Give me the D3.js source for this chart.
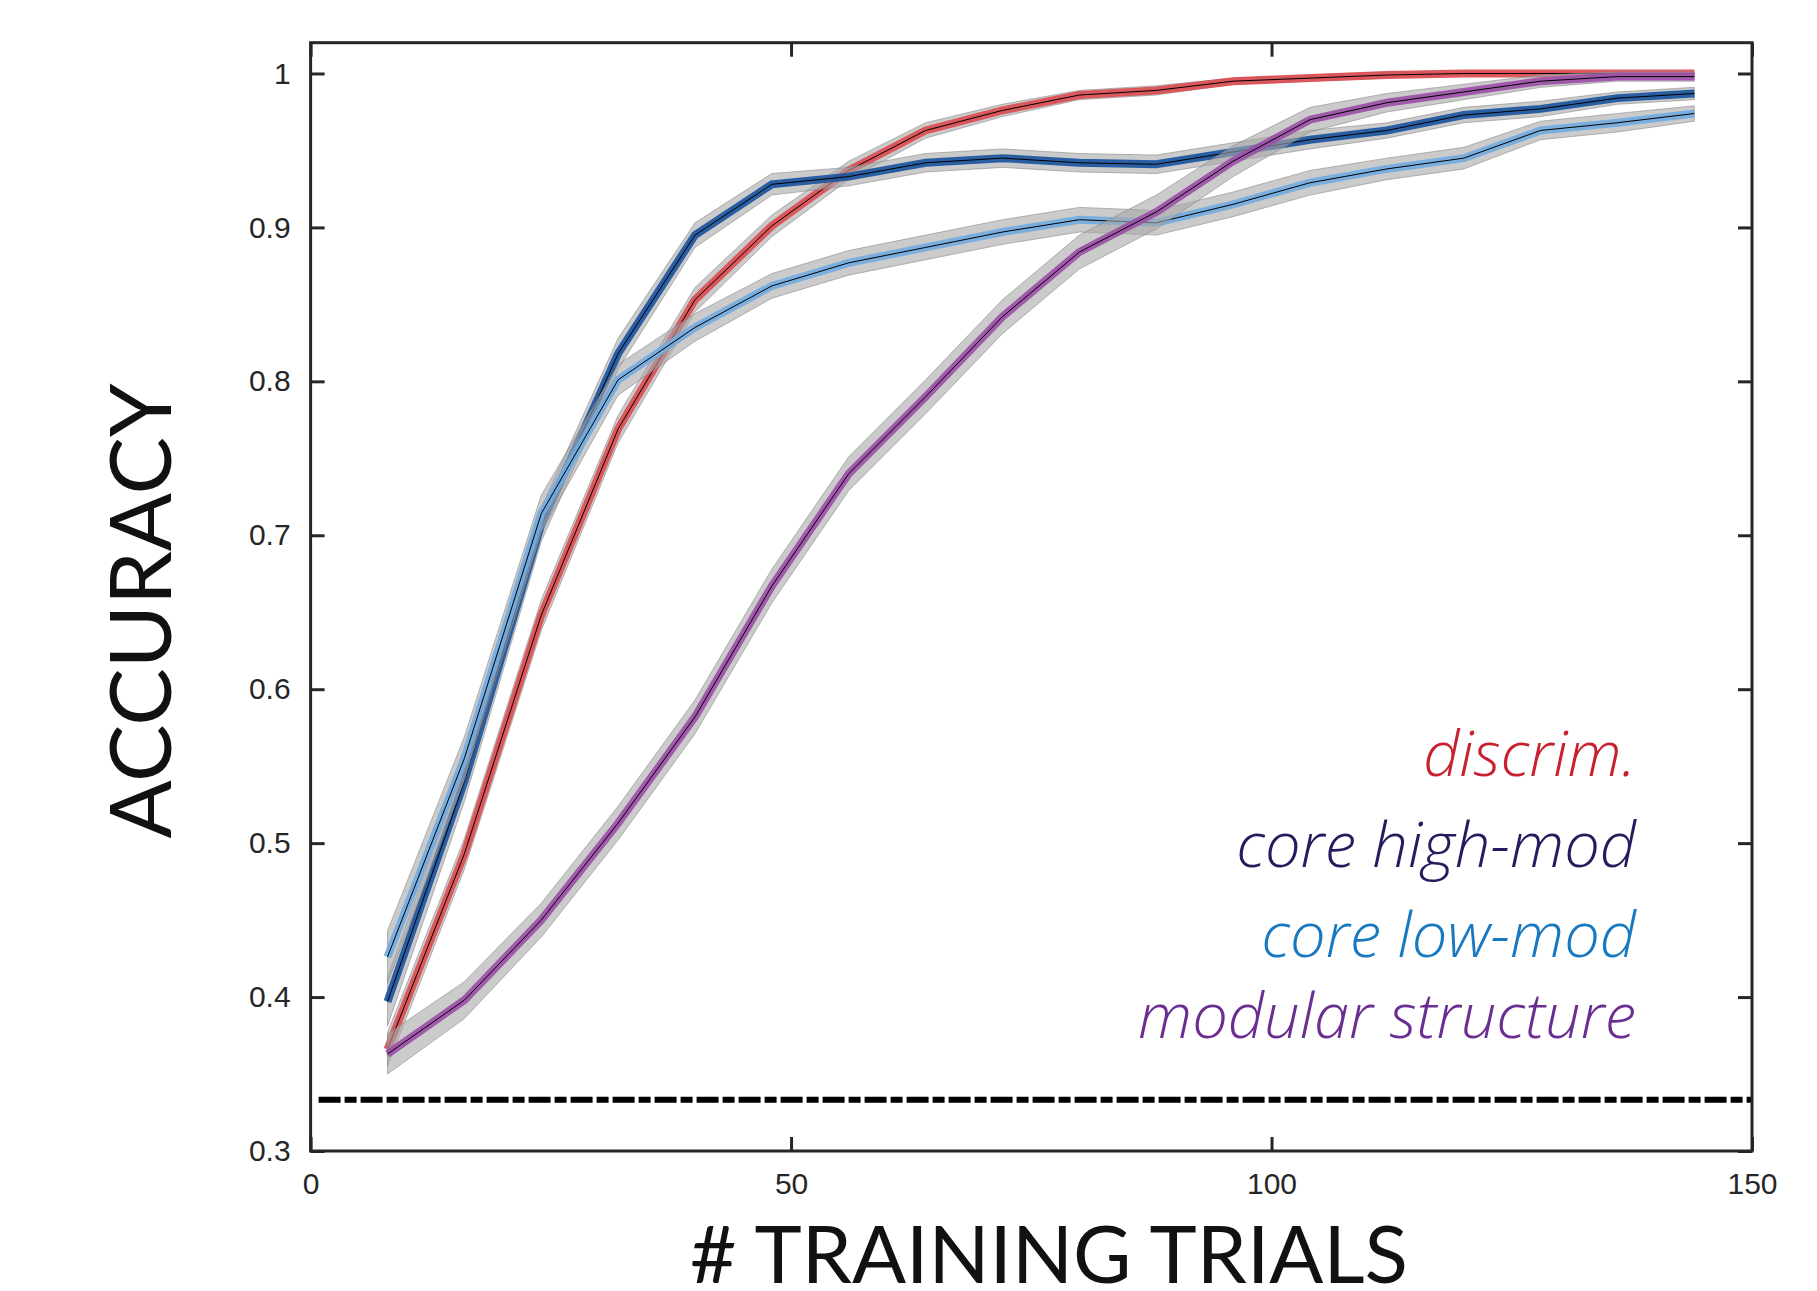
<!DOCTYPE html>
<html>
    <head>
        <meta charset="utf-8" />
        <script src="https://d3js.org/d3.v7.min.js"></script>
        <style type="text/css">
            body {
                margin: 0;
                background-color: white;
            }

            svg#mainSvg {
                display: block;
                background-color: white;
            }

            .tickText text {
                font-family: "Liberation Sans", Arial, Helvetica, sans-serif;
                font-size: 30px;
                fill: #262626;
            }

            .axisTitle {
                font-family: Lato, "Noto Sans", sans-serif;
                fill: #111;
            }

            .legendText {
                font-family: "Open Sans", "Noto Sans", sans-serif;
                font-style: italic;
                font-weight: 300;
            }
        </style>
    </head>

    <body>
        <svg id="mainSvg" width="1817" height="1291"></svg>

        <!-- Data -->
        <script type="text/javascript">
            // number of training trials (x positions of every point)
            const trials = [8, 16, 24, 32, 40, 48, 56, 64, 72, 80, 88, 96, 104, 112, 120, 128, 136, 144];

            // mean accuracy of every condition
            const discrim = [0.366, 0.493, 0.648, 0.769, 0.853, 0.901, 0.937, 0.963, 0.976, 0.986, 0.989, 0.995, 0.997, 0.999, 1.0, 1.0, 1.0, 1.0];
            const coreHigh = [0.397, 0.540, 0.707, 0.818, 0.895, 0.928, 0.933, 0.942, 0.945, 0.942, 0.941, 0.949, 0.957, 0.963, 0.973, 0.977, 0.984, 0.987];
            const coreLow = [0.426, 0.555, 0.714, 0.801, 0.835, 0.862, 0.877, 0.887, 0.897, 0.905, 0.903, 0.915, 0.929, 0.938, 0.945, 0.963, 0.968, 0.974];
            const modular = [0.363, 0.398, 0.450, 0.513, 0.582, 0.667, 0.740, 0.790, 0.842, 0.884, 0.910, 0.943, 0.970, 0.981, 0.988, 0.995, 0.998, 0.998];

            // half width of the grey error bands
            const discrimErr = [0.011, 0.010, 0.010, 0.009, 0.008, 0.007, 0.006, 0.005, 0.004, 0.003, 0.003, 0.002, 0.002, 0.002, 0.001, 0.001, 0.001, 0.001];
            const coreHighErr = [0.016, 0.013, 0.011, 0.010, 0.008, 0.007, 0.006, 0.006, 0.006, 0.006, 0.006, 0.006, 0.006, 0.005, 0.005, 0.005, 0.004, 0.004];
            const coreLowErr = [0.017, 0.014, 0.012, 0.010, 0.009, 0.008, 0.008, 0.008, 0.008, 0.008, 0.008, 0.008, 0.008, 0.007, 0.007, 0.006, 0.006, 0.005];
            const modularErr = [0.013, 0.012, 0.011, 0.011, 0.011, 0.011, 0.011, 0.011, 0.011, 0.011, 0.011, 0.010, 0.008, 0.006, 0.005, 0.004, 0.003, 0.003];

            // chance level (three choices)
            const chance = 1 / 3;

            // tick values and legend labels
            const xTicks = [0, 50, 100, 150];
            const yTicks = [0.3, 0.4, 0.5, 0.6, 0.7, 0.8, 0.9, 1];
            const labels = ["discrim.", "core high-mod", "core low-mod", "modular structure"];
        </script>

        <!-- Scales and frame -->
        <script type="text/javascript">
            const svg = d3.select("#mainSvg");
            const boxLeft = 310.6,
                boxRight = 1752,
                boxTop = 42.7,
                boxBottom = 1151;

            const x = d3.scaleLinear().domain([0, 150]).range([boxLeft, boxRight]);
            const y = d3.scaleLinear().domain([0.3, 1.02]).range([boxBottom, boxTop]);

            const fmt = (d) => (d === 1 ? "1" : d3.format(".1f")(d));

            // bottom axis with labels, ticks pointing inwards
            svg.append("g")
                .attr("class", "tickText")
                .attr("transform", "translate(0," + boxBottom + ")")
                .call(d3.axisBottom(x).tickValues(xTicks).tickSize(-14).tickPadding(22));

            // left axis with labels
            svg.append("g")
                .attr("class", "tickText")
                .attr("transform", "translate(" + boxLeft + ",0)")
                .call(d3.axisLeft(y).tickValues(yTicks).tickFormat(fmt).tickSize(-14).tickPadding(20));

            // mirrored ticks on top and right
            svg.append("g")
                .attr("transform", "translate(0," + boxTop + ")")
                .call(d3.axisTop(x).tickValues(xTicks).tickSize(-14).tickFormat(""));
            svg.append("g")
                .attr("transform", "translate(" + boxRight + ",0)")
                .call(d3.axisRight(y).tickValues(yTicks).tickSize(-14).tickFormat(""));

            svg.selectAll(".domain").remove();
            svg.selectAll(".tick line").attr("stroke", "#262626").attr("stroke-width", 3);
        </script>

        <!-- Chance line, bands and lines -->
        <script type="text/javascript">
            const series = [
                { mean: discrim, err: discrimErr, color: "#db4d52" },
                { mean: coreHigh, err: coreHighErr, color: "#1c55a0" },
                { mean: coreLow, err: coreLowErr, color: "#72abdf" },
                { mean: modular, err: modularErr, color: "#9c4fa8" },
            ];

            const plot = svg.append("g");

            // dash-dot chance line
            plot.append("line")
                .attr("x1", x(0) + 8)
                .attr("x2", x(150))
                .attr("y1", y(chance))
                .attr("y2", y(chance))
                .attr("stroke", "black")
                .attr("stroke-width", 6)
                .attr("stroke-dasharray", "22,4,12,4");

            const band = d3
                .area()
                .x((d, i) => x(trials[i]))
                .y0((d) => y(d[0] - d[1]))
                .y1((d) => y(d[0] + d[1]));

            const line = d3
                .line()
                .x((d, i) => x(trials[i]))
                .y((d) => y(d));

            series.forEach((s) => {
                const g = plot.append("g");
                g.append("path")
                    .datum(s.mean.map((m, i) => [m, s.err[i]]))
                    .attr("d", band)
                    .attr("fill", "#a8a8a8")
                    .attr("fill-opacity", 0.6)
                    .attr("stroke", "#8a8a8a")
                    .attr("stroke-opacity", 0.6)
                    .attr("stroke-width", 1);
                g.append("path")
                    .datum(s.mean)
                    .attr("d", line)
                    .attr("fill", "none")
                    .attr("stroke", s.color)
                    .attr("stroke-opacity", 0.92)
                    .attr("stroke-width", 8);
                g.append("path")
                    .datum(s.mean)
                    .attr("d", line)
                    .attr("fill", "none")
                    .attr("stroke", "black")
                    .attr("stroke-width", 1);
            });

            // frame
            svg.append("rect")
                .attr("x", boxLeft)
                .attr("y", boxTop)
                .attr("width", boxRight - boxLeft)
                .attr("height", boxBottom - boxTop)
                .attr("fill", "none")
                .attr("stroke", "#262626")
                .attr("stroke-width", 3);
        </script>

        <!-- Titles and legend -->
        <script type="text/javascript">
            svg.append("text")
                .attr("class", "axisTitle")
                .attr("x", 1049)
                .attr("y", 1283)
                .attr("text-anchor", "middle")
                .style("font-size", "80px")
                .text("# TRAINING TRIALS");

            svg.append("text")
                .attr("class", "axisTitle")
                .attr("transform", "translate(171,611) rotate(-90)")
                .attr("text-anchor", "middle")
                .style("font-size", "86px")
                .text("ACCURACY");

            const legendColors = ["#c8202f", "#241c5c", "#1878c0", "#6a2d91"];
            const legendY = [776, 867, 957, 1038];

            const legend = svg
                .append("g")
                .selectAll("text")
                .data(labels)
                .enter()
                .append("text")
                .attr("class", "legendText")
                .attr("x", 1636)
                .attr("y", (d, i) => legendY[i])
                .attr("text-anchor", "end")
                .style("font-size", "60px")
                .style("fill", (d, i) => legendColors[i])
                .text((d) => d);

            // scale the legend font so the longest entry is as wide as in the figure
            const longest = legend.filter((d) => d === "modular structure").node();
            const fitSize = (60 * 498) / longest.getComputedTextLength();
            legend.style("font-size", fitSize + "px");
        </script>
    </body>
</html>
